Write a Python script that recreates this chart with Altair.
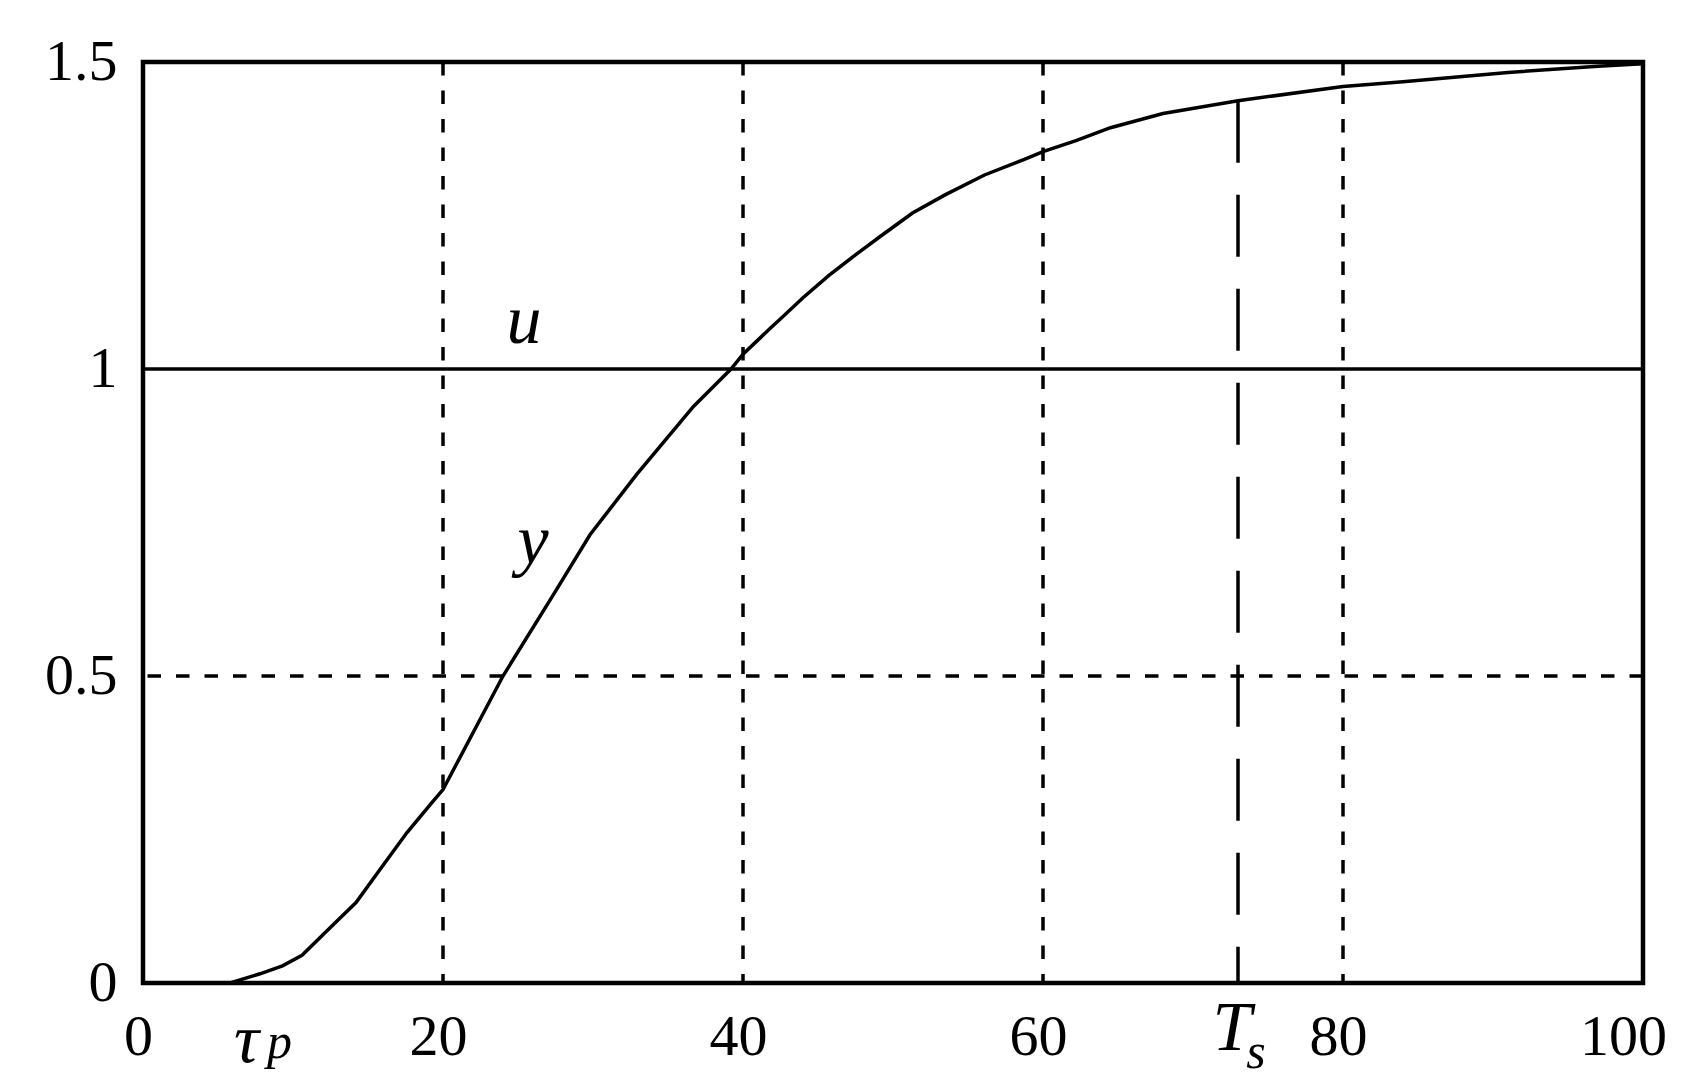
import altair as alt
import pandas as pd

# step response y(t)
t_vals = [5.8, 7.8, 9.3, 10.6, 12.9, 14.2, 15.8, 17.6, 19.3, 20.0, 24.0, 27.3, 29.8,
          32.9, 36.7, 39.2, 40.0, 40.9, 41.8, 42.65, 44.0, 45.75, 47.5, 49.1, 51.3,
          53.5, 56.1, 58.8, 60.0, 62.2, 64.5, 68.0, 73.0,
          80.0, 84.0, 91.0, 97.0, 100.0]
y_vals = [0.0, 0.015, 0.028, 0.045, 0.10, 0.131, 0.185, 0.245, 0.295, 0.315, 0.5, 0.63, 0.73,
          0.828, 0.939, 1.0, 1.024, 1.045, 1.066, 1.085, 1.116, 1.153, 1.186, 1.215, 1.254,
          1.284, 1.316, 1.342, 1.354, 1.372, 1.393, 1.416, 1.437,
          1.46, 1.468, 1.483, 1.493, 1.497]

x_ticks = [0, 20, 40, 60, 80, 100]
y_ticks = [0, 0.5, 1, 1.5]
v_grid = [20, 40, 60, 80]
h_grid = [0.5]
u_level = [1.0]
ts_x = [73.0]
ts_top = [1.437]

# annotation labels: text, x, y, size
lab_text = ["u", "y", "τ", "p", "T", "s"]
lab_x = [25.4, 26.0, 6.9, 9.1, 72.6, 74.2]
lab_y = [1.042, 0.684, -0.129, -0.122, -0.109, -0.138]
lab_size = [70, 70, 70, 50, 70, 50]

xs = alt.Scale(domain=[0, 100], nice=False, zero=False)
ys = alt.Scale(domain=[0, 1.5], nice=False, zero=False)

curve_df = pd.DataFrame({"t": t_vals, "v": y_vals})
vgrid_df = pd.DataFrame({"t": v_grid})
hgrid_df = pd.DataFrame({"v": h_grid})
u_df = pd.DataFrame({"v": u_level})
ts_df = pd.DataFrame({"t": ts_x, "v": ts_top, "v0": [0.0]})
lab_df = pd.DataFrame({"text": lab_text, "t": lab_x, "v": lab_y, "size": lab_size})

FONT = "Liberation Serif"

x_axis = alt.Axis(
    values=x_ticks, title=None, grid=False, ticks=False, domain=False,
    labelFont=FONT, labelFontSize=58, labelColor="black", labelPadding=25,
    labelFlush=False,
    labelOffset={"condition": {"test": "datum.value == 100", "value": -20}, "value": -5},
)
y_axis = alt.Axis(
    values=y_ticks, title=None, grid=False, ticks=False, domain=False,
    labelFont=FONT, labelFontSize=58, labelColor="black", labelPadding=26,
    labelFlush=False,
    labelExpr="datum.value",
)

vgrid = alt.Chart(vgrid_df).mark_rule(
    color="black", strokeWidth=3.5, strokeDash=[13.5, 15]
).encode(x=alt.X("t:Q", scale=xs, axis=x_axis))

hgrid = alt.Chart(hgrid_df).mark_rule(
    color="black", strokeWidth=3.5, strokeDash=[13.5, 15]
).encode(y=alt.Y("v:Q", scale=ys, axis=y_axis))

uline = alt.Chart(u_df).mark_rule(color="black", strokeWidth=3.5).encode(
    y=alt.Y("v:Q", scale=ys)
)

tsline = alt.Chart(ts_df).mark_rule(
    color="black", strokeWidth=3.5, strokeDash=[62, 32]
).encode(
    x=alt.X("t:Q", scale=xs),
    y=alt.Y("v:Q", scale=ys),
    y2=alt.Y2("v0:Q"),
)

curve = alt.Chart(curve_df).mark_line(
    color="black", strokeWidth=3.5, interpolate="linear"
).encode(
    x=alt.X("t:Q", scale=xs),
    y=alt.Y("v:Q", scale=ys),
)

labels = alt.Chart(lab_df).mark_text(
    font="Liberation Serif", fontStyle="italic", color="black",
    align="center", baseline="alphabetic",
).encode(
    x=alt.X("t:Q", scale=xs),
    y=alt.Y("v:Q", scale=ys),
    text="text:N",
    size=alt.Size("size:Q", scale=None, legend=None),
)

chart = alt.layer(vgrid, hgrid, uline, tsline, curve, labels).properties(
    width=1500, height=921,
    autosize=alt.AutoSizeParams(type="none"),
    padding={"left": 135, "top": 54, "right": 40, "bottom": 90},
    background="white",
).configure_view(stroke="black", strokeWidth=4.5)

chart.save("out.html", embed_options={"renderer": "svg", "actions": False})
